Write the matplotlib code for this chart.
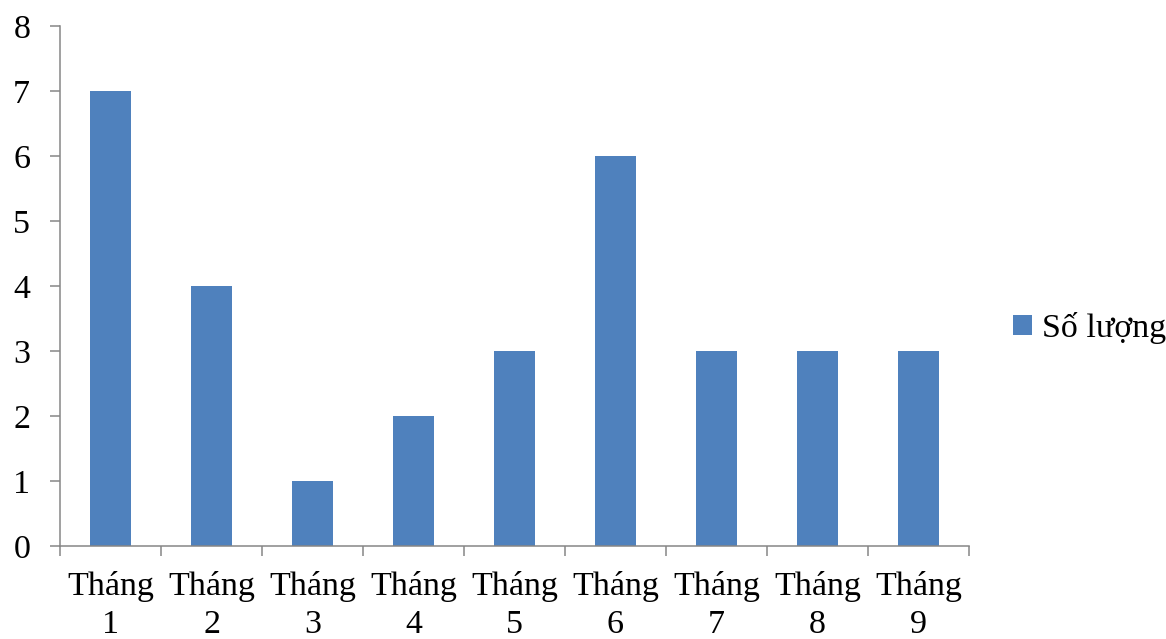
import numpy as np
import matplotlib
matplotlib.use('Agg')
import matplotlib.pyplot as plt
from matplotlib.ticker import FixedLocator

plt.rcParams['font.family'] = ['Liberation Serif', 'DejaVu Serif']

months = ['Tháng\n1', 'Tháng\n2', 'Tháng\n3', 'Tháng\n4', 'Tháng\n5',
          'Tháng\n6', 'Tháng\n7', 'Tháng\n8', 'Tháng\n9']
so_luong = [7, 4, 1, 2, 3, 6, 3, 3, 3]
series_name = 'Số lượng'

fig = plt.figure(figsize=(11.66, 6.39), dpi=100)
ax = fig.add_axes([0.0515, 0.1455, 0.7795, 0.8138])

x = np.arange(len(months))
ax.bar(x, so_luong, width=0.4, color='#4F81BD', label=series_name, zorder=2)

ax.set_xlim(-0.5, len(months) - 0.5)
ax.set_ylim(0, 8)
ax.set_yticks(range(0, 9))

# ticks between categories, labels at centers
ax.xaxis.set_major_locator(FixedLocator(np.arange(-0.5, len(months), 1.0)))
ax.set_xticklabels([])
ax.xaxis.set_minor_locator(FixedLocator(x))
ax.set_xticklabels(months, minor=True, fontsize=24.5, linespacing=1.3)
ax.tick_params(axis='x', which='minor', length=0, pad=18)
ax.tick_params(axis='x', which='major', length=7.5, width=1.1, color='#868686')
ax.tick_params(axis='y', length=7.5, width=1.1, color='#868686', labelsize=24.5, pad=14)

for s in ['top', 'right']:
    ax.spines[s].set_visible(False)
for s in ['left', 'bottom']:
    ax.spines[s].set_color('#868686')
    ax.spines[s].set_linewidth(1.1)

fig.legend(loc='center left', bbox_to_anchor=(0.869, 0.487), frameon=False,
           fontsize=24.5, handlelength=0.55, handleheight=0.55, handletextpad=0.3,
           borderaxespad=0, borderpad=0)

fig.savefig('out.png', dpi=100)
